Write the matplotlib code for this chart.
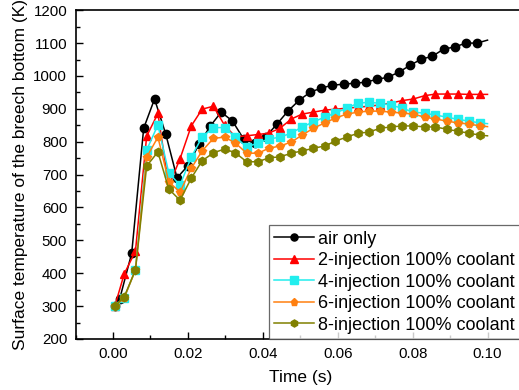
import matplotlib
matplotlib.use("Agg")
import matplotlib.pyplot as plt
from matplotlib.ticker import MultipleLocator

plt.rcParams['font.family'] = ['Liberation Sans', 'DejaVu Sans']

# time stamps (s) of the sampled points; the last point has no marker
t_air = [0.0005, 0.0018, 0.0050,
         0.0082, 0.0111, 0.0141, 0.0171, 0.0200, 0.0230, 0.0260, 0.0289,
         0.0319, 0.0349, 0.0378, 0.0408, 0.0438, 0.0467, 0.0497, 0.0527,
         0.0556, 0.0586, 0.0616, 0.0645, 0.0675, 0.0705, 0.0734, 0.0764,
         0.0794, 0.0823, 0.0853, 0.0883, 0.0912, 0.0942, 0.0972, 0.1000]
t_inj = [0.0005, 0.0030, 0.0060,
         0.0090, 0.0120, 0.0149, 0.0179, 0.0209, 0.0238, 0.0268, 0.0298,
         0.0327, 0.0357, 0.0387, 0.0416, 0.0446, 0.0476, 0.0505, 0.0535,
         0.0565, 0.0594, 0.0624, 0.0654, 0.0683, 0.0713, 0.0743, 0.0772,
         0.0802, 0.0832, 0.0861, 0.0891, 0.0921, 0.0950, 0.0980, 0.1000]

# surface temperature (K)
T_air = [300, 322, 461,
         841, 930, 823, 690, 727, 793, 848, 890,
         863, 808, 795, 815, 854, 893, 926, 951,
         963, 972, 975, 978, 981, 990, 996, 1012,
         1033, 1051, 1060, 1082, 1088, 1100, 1100, 1109]
T_inj2 = [300, 398, 467,
          817, 886, 665, 748, 848, 899, 908, 850,
          815, 818, 822, 826, 841, 869, 884, 890,
          896, 899, 902, 905, 908, 912, 918, 925,
          930, 940, 945, 945, 945, 944, 944, 944]
T_inj4 = [300, 325, 410,
          775, 851, 705, 668, 753, 814, 843, 843,
          814, 784, 796, 808, 814, 826, 845, 860,
          875, 887, 902, 917, 920, 917, 911, 902,
          890, 887, 881, 875, 868, 863, 857, 855]
T_inj6 = [300, 325, 410,
          753, 814, 678, 647, 719, 772, 810, 814,
          796, 765, 765, 780, 787, 799, 820, 841,
          857, 872, 884, 890, 893, 893, 890, 887,
          884, 875, 869, 863, 857, 854, 848, 846]
T_inj8 = [300, 328, 410,
          726, 769, 656, 622, 689, 742, 766, 778,
          766, 739, 739, 751, 754, 765, 772, 780,
          787, 802, 814, 826, 829, 841, 845, 848,
          848, 845, 845, 838, 832, 826, 820, 818]

labels = ['air only',
          '2-injection 100% coolant',
          '4-injection 100% coolant',
          '6-injection 100% coolant',
          '8-injection 100% coolant']
colors = ['black', '#ff0000', '#22eeee', '#ff8010', '#808000']
markers = ['o', '^', 's', 'p', 'h']

series = [(t_air, T_air), (t_inj, T_inj2), (t_inj, T_inj4),
          (t_inj, T_inj6), (t_inj, T_inj8)]

fig = plt.figure(figsize=(5.19, 3.90), dpi=100)
# right edge of the frame sits just outside the canvas
ax = fig.add_axes([0.1455, 0.1308, 0.866, 0.843])

for (t, T), lab, c, m in zip(series, labels, colors, markers):
    ax.plot(t, T, color=c, marker=m, markersize=6, lw=1.1,
            markevery=slice(0, len(t) - 1), label=lab)

ax.set_xlim(-0.01, 0.11)
ax.set_ylim(200, 1200)
ax.xaxis.set_major_locator(MultipleLocator(0.02))
ax.xaxis.set_minor_locator(MultipleLocator(0.01))
ax.yaxis.set_major_locator(MultipleLocator(100))
ax.yaxis.set_minor_locator(MultipleLocator(50))
ax.set_xticks([0.0, 0.02, 0.04, 0.06, 0.08, 0.10])
ax.set_xticklabels(['0.00', '0.02', '0.04', '0.06', '0.08', '0.10'])
ax.tick_params(which='both', direction='in', top=False, right=False,
               labelsize=10.8, width=1.0)
ax.tick_params(which='major', length=5, pad=6)
ax.tick_params(which='minor', length=3)
for s in ax.spines.values():
    s.set_linewidth(1.2)

ax.set_xlabel('Time (s)', fontsize=12.5, labelpad=6)
ax.set_ylabel('Surface temperature of the breech bottom (K)', fontsize=12.5,
              labelpad=4)

leg = ax.legend(loc='lower left', bbox_to_anchor=(0.43, 0.0), fontsize=13,
                frameon=True, fancybox=False, handlelength=2.2,
                handletextpad=0.25, labelspacing=0.25, borderpad=0.3,
                borderaxespad=0.0, markerscale=0.85)
leg.get_frame().set_edgecolor('#444444')
leg.get_frame().set_linewidth(0.9)

fig.savefig('out.png', dpi=100)
